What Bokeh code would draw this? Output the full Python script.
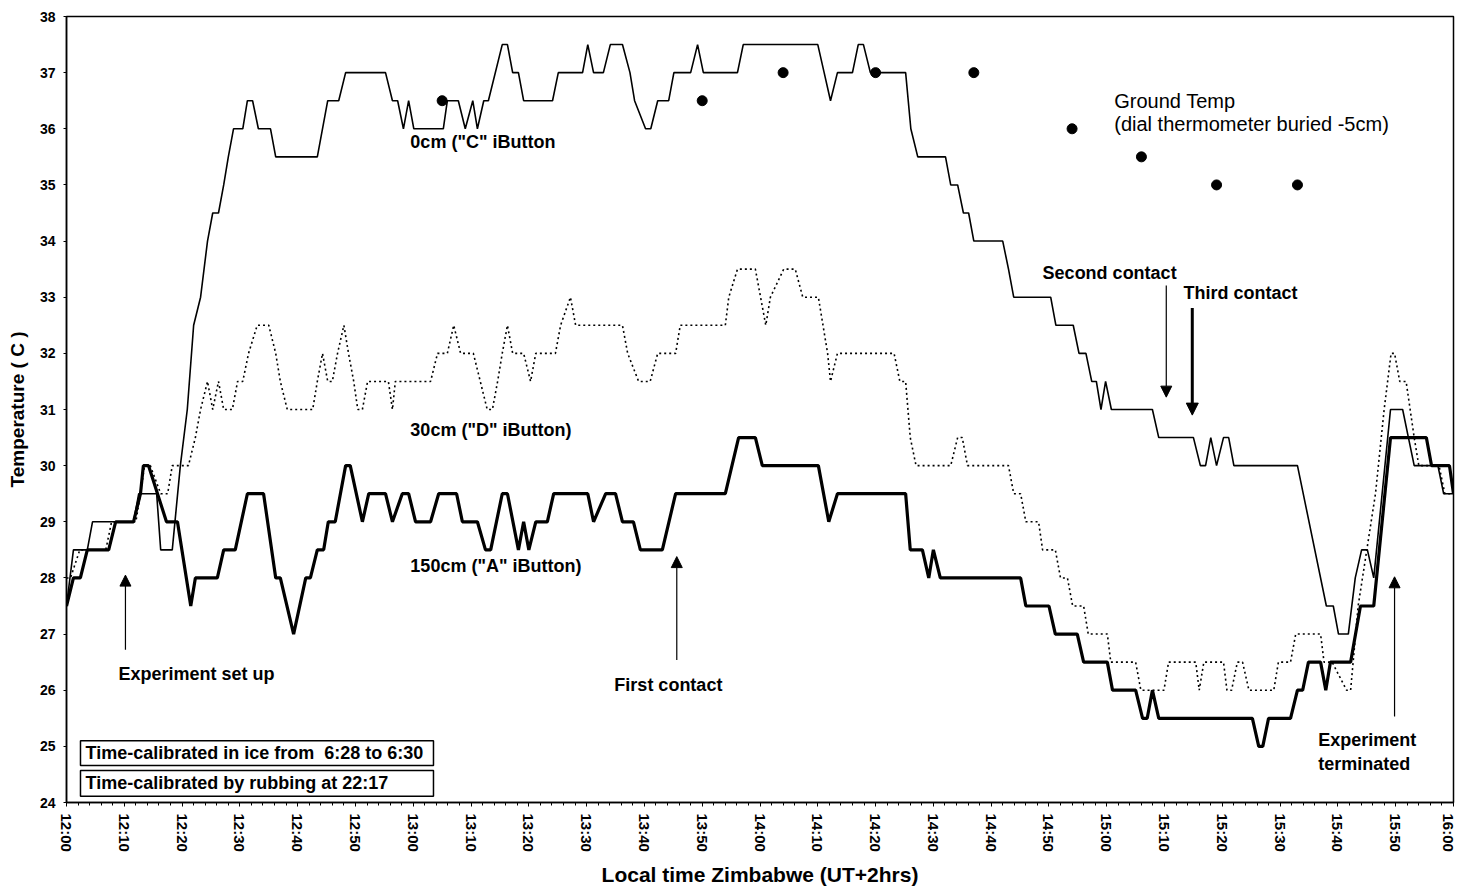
from bokeh.plotting import figure
from bokeh.models import Range1d, FixedTicker, Label, Arrow, NormalHead, BoxAnnotation
from bokeh.embed import file_html
from bokeh.resources import INLINE

# ---------------- data (x = minutes after 12:00 local time) ----------------
x_tick_labels = ["12:00", "12:10", "12:20", "12:30", "12:40", "12:50", "13:00", "13:10",
                 "13:20", "13:30", "13:40", "13:50", "14:00", "14:10", "14:20", "14:30",
                 "14:40", "14:50", "15:00", "15:10", "15:20", "15:30", "15:40", "15:50", "16:00"]
y_ticks = [24, 25, 26, 27, 28, 29, 30, 31, 32, 33, 34, 35, 36, 37, 38]

# 0cm ("C" iButton)
c_time = [0, 1.2, 3.6, 4.5, 11.6, 12.5, 15.6, 16.3, 18.3, 19.7, 20.9, 22.0, 23.2, 23.8, 24.4,
          25.3, 26.3, 27.2, 28.0, 28.9, 30.5, 31.3, 32.2, 33.2, 35.3, 36.2, 43.4, 45.2, 47.1,
          48.3, 55.2, 56.4, 57.3, 58.3, 59.2, 60.1, 65.2, 65.9, 67.8, 69.0, 70.3, 71.1, 72.2,
          73.0, 75.4, 76.3, 77.2, 78.2, 79.1, 84.1, 85.1, 89.3, 90.2, 91.2, 92.9, 94.1, 96.2,
          97.5, 98.3, 100.2, 101.1, 102.3, 104.2, 105.1, 108.0, 109.2, 110.2, 116.1, 117.1,
          130.0, 131.1, 132.2, 133.4, 136.0, 137.0, 137.9, 139.1, 145.2, 146.1, 147.3, 152.1,
          153.0, 154.2, 155.2, 156.1, 157.0, 162.0, 163.0, 163.9, 170.3, 171.2, 174.2, 175.2,
          176.4, 177.4, 178.2, 179.0, 179.8, 180.8, 187.9, 189.0, 195.0, 196.2, 197.1, 198.0,
          199.0, 200.2, 201.1, 202.0, 213.0, 218.0, 219.2, 220.1, 221.8, 223.0, 224.1, 225.1,
          226.2, 229.1, 231.2, 232.2, 233.2, 237.3, 238.3, 240.0]
c_temp = [27.5, 28.5, 28.5, 29.0, 29.0, 29.5, 29.5, 28.5, 28.5, 30.0, 31.0, 32.5, 33.0, 33.5, 34.0,
          34.5, 34.5, 35.0, 35.5, 36.0, 36.0, 36.5, 36.5, 36.0, 36.0, 35.5, 35.5, 36.5, 36.5,
          37.0, 37.0, 36.5, 36.5, 36.0, 36.5, 36.0, 36.0, 36.5, 36.5, 36.0, 36.5, 36.0, 36.5,
          36.5, 37.5, 37.5, 37.0, 37.0, 36.5, 36.5, 37.0, 37.0, 37.5, 37.0, 37.0, 37.5, 37.5,
          37.0, 36.5, 36.0, 36.0, 36.5, 36.5, 37.0, 37.0, 37.5, 37.0, 37.0, 37.5,
          37.5, 37.0, 36.5, 37.0, 37.0, 37.5, 37.5, 37.0, 37.0, 36.0, 35.5, 35.5,
          35.0, 35.0, 34.5, 34.5, 34.0, 34.0, 33.5, 33.0, 33.0, 32.5, 32.5, 32.0,
          32.0, 31.5, 31.5, 31.0, 31.5, 31.0, 31.0, 30.5, 30.5, 30.0, 30.0, 30.5,
          30.0, 30.5, 30.5, 30.0, 30.0, 27.5, 27.5, 27.0, 27.0, 28.0, 28.5, 28.5,
          28.0, 31.0, 31.0, 30.5, 30.0, 30.0, 29.5, 29.5]

# 30cm ("D" iButton)
d_time = [0, 0.7, 2.3, 6.8, 7.8, 12.0, 12.8, 13.5, 14.5, 16.3, 17.5, 18.3, 21.1, 22.3, 23.2, 24.4,
          25.3, 26.3, 27.2, 28.7, 29.6, 30.5, 31.5, 33.0, 35.0, 36.2, 37.0, 38.2, 42.6, 43.4,
          44.3, 45.2, 46.0, 46.9, 48.0, 48.8, 49.7, 50.4, 51.2, 52.1, 55.7, 56.4, 56.9, 63.0,
          64.2, 65.9, 67.0, 68.2, 70.4, 71.6, 72.8, 73.7, 74.6, 75.4, 76.3, 77.2, 79.1, 80.3,
          81.2, 84.6, 85.5, 87.2, 88.1, 96.2, 97.1, 99.0, 101.0, 102.3, 105.4, 106.2, 114.0,
          114.6, 116.1, 119.2, 120.1, 121.0, 121.8, 124.1, 126.1, 127.4, 130.1, 131.7, 132.2,
          133.4, 143.2, 144.2, 145.2, 146.0, 147.0, 153.0, 154.2, 155.0, 155.9, 163.0, 163.9,
          165.1, 166.0, 168.2, 168.9, 171.1, 172.0, 173.2, 174.1, 176.0, 176.8, 180.1, 180.7,
          185.0, 185.9, 189.9, 190.7, 195.4, 196.0, 196.8, 200.2, 200.8, 201.6, 202.6, 203.5,
          204.6, 208.9, 209.7, 211.8, 212.7, 217.0, 217.6, 219.0, 221.5, 222.2, 223.5, 225.0,
          226.5, 228.0, 229.2, 229.8, 230.7, 231.8, 232.5, 233.2, 234.0, 237.5, 238.5, 240.0]
d_temp = [28.0, 28.0, 28.5, 28.5, 29.0, 29.0, 29.5, 30.0, 30.0, 29.5, 29.5, 30.0, 30.0, 30.5, 31.0, 31.5,
          31.0, 31.5, 31.0, 31.0, 31.5, 31.5, 32.0, 32.5, 32.5, 32.0, 31.5, 31.0, 31.0, 31.5,
          32.0, 31.5, 31.5, 32.0, 32.5, 32.0, 31.5, 31.0, 31.0, 31.5, 31.5, 31.0, 31.5, 31.5,
          32.0, 32.0, 32.5, 32.0, 32.0, 31.5, 31.0, 31.0, 31.5, 32.0, 32.5, 32.0, 32.0, 31.5,
          32.0, 32.0, 32.5, 33.0, 32.5, 32.5, 32.0, 31.5, 31.5, 32.0, 32.0, 32.5, 32.5,
          33.0, 33.5, 33.5, 33.0, 32.5, 33.0, 33.5, 33.5, 33.0, 33.0, 32.0, 31.5,
          32.0, 32.0, 31.5, 31.5, 30.5, 30.0, 30.0, 30.5, 30.5, 30.0, 30.0, 29.5,
          29.5, 29.0, 29.0, 28.5, 28.5, 28.0, 28.0, 27.5, 27.5, 27.0, 27.0, 26.5,
          26.5, 26.0, 26.0, 26.5, 26.5, 26.0, 26.5, 26.5, 26.0, 26.0, 26.5, 26.5,
          26.0, 26.0, 26.5, 26.5, 27.0, 27.0, 26.5, 26.5, 26.0, 26.0, 27.5, 28.5,
          29.5, 31.0, 32.0, 32.0, 31.5, 31.5, 31.0, 30.5, 30.0, 30.0, 29.5, 29.5]

# 150cm ("A" iButton)
a_time = [0, 1.2, 2.4, 3.6, 7.3, 8.5, 11.6, 12.8, 13.3, 14.2, 17.3, 19.2, 21.5, 22.3, 26.1, 27.2,
          29.2, 31.3, 34.1, 36.2, 37.0, 39.3, 41.4, 42.2, 43.4, 44.5, 45.3, 46.5, 48.3, 49.1,
          51.2, 52.3, 55.2, 56.4, 58.1, 59.2, 60.4, 63.0, 64.4, 67.5, 68.5, 71.1, 72.5, 73.4,
          75.4, 76.3, 78.2, 79.1, 80.0, 81.2, 83.2, 84.3, 90.2, 91.2, 93.3, 95.0, 96.2, 98.1,
          99.3, 103.1, 105.4, 114.0, 116.3, 119.2, 120.4, 130.1, 131.9, 133.4, 145.2, 146.0,
          148.1, 149.2, 150.0, 151.2, 165.1, 166.0, 170.0, 171.1, 174.9, 176.0, 180.1, 181.0,
          185.0, 186.2, 187.0, 187.9, 189.0, 205.2, 206.3, 207.0, 208.0, 211.8, 213.0, 213.9,
          214.9, 217.0, 217.9, 218.7, 222.2, 223.9, 226.2, 229.1, 235.3, 236.2, 239.3, 240.0]
a_temp = [27.5, 28.0, 28.0, 28.5, 28.5, 29.0, 29.0, 29.5, 30.0, 30.0, 29.0, 29.0, 27.5, 28.0, 28.0, 28.5,
          28.5, 29.5, 29.5, 28.0, 28.0, 27.0, 28.0, 28.0, 28.5, 28.5, 29.0, 29.0, 30.0, 30.0,
          29.0, 29.5, 29.5, 29.0, 29.5, 29.5, 29.0, 29.0, 29.5, 29.5, 29.0, 29.0, 28.5, 28.5,
          29.5, 29.5, 28.5, 29.0, 28.5, 29.0, 29.0, 29.5, 29.5, 29.0, 29.5, 29.5, 29.0, 29.0,
          28.5, 28.5, 29.5, 29.5, 30.5, 30.5, 30.0, 30.0, 29.0, 29.5, 29.5, 28.5,
          28.5, 28.0, 28.5, 28.0, 28.0, 27.5, 27.5, 27.0, 27.0, 26.5, 26.5, 26.0,
          26.0, 25.5, 25.5, 26.0, 25.5, 25.5, 25.0, 25.0, 25.5, 25.5, 26.0, 26.0,
          26.5, 26.5, 26.0, 26.5, 26.5, 27.5, 27.5, 30.5, 30.5, 30.0, 30.0, 29.5]

# Ground temperature (dial thermometer buried -5cm)
g_time = [65, 110, 124, 140, 157, 174, 186, 199, 213]
g_temp = [36.5, 36.5, 37.0, 37.0, 37.0, 36.0, 35.5, 35.0, 35.0]

# ---------------- figure ----------------
FONT = "Liberation Sans"

p = figure(width=1456, height=888, output_backend="svg", toolbar_location=None,
           x_range=Range1d(0, 240), y_range=Range1d(24, 38),
           min_border_left=66, min_border_right=3, min_border_top=16, min_border_bottom=85,
           background_fill_color="white", border_fill_color="white")
p.xgrid.visible = False
p.ygrid.visible = False
p.outline_line_color = "black"
p.outline_line_width = 1.5
p.outline_line_alpha = 1.0

tick_minutes = [10 * i for i in range(len(x_tick_labels))]
p.xaxis.ticker = FixedTicker(ticks=tick_minutes, minor_ticks=list(range(0, 241, 2)))
p.xaxis.major_label_overrides = {m: lab for m, lab in zip(tick_minutes, x_tick_labels)}
p.xaxis.major_label_orientation = "vertical"
p.xaxis.axis_label = "Local time Zimbabwe (UT+2hrs)"
p.yaxis.ticker = FixedTicker(ticks=y_ticks)
p.yaxis.axis_label = "Temperature ( C )"

for ax in (p.xaxis[0], p.yaxis[0]):
    ax.axis_line_color = "black"
    ax.axis_line_width = 1.5
    ax.major_tick_line_color = "black"
    ax.minor_tick_line_color = "black"
    ax.major_tick_in = 0
    ax.minor_tick_in = 0
    ax.major_label_text_font = FONT
    ax.major_label_text_font_style = "bold"
    ax.major_label_text_color = "black"
    ax.axis_label_text_font = FONT
    ax.axis_label_text_font_style = "bold"
    ax.axis_label_text_color = "black"

p.xaxis.major_tick_out = 4
p.xaxis.minor_tick_out = 3
p.xaxis.major_label_standoff = 7
p.xaxis.major_label_text_font_size = "15px"
p.xaxis.axis_label_standoff = 8
p.xaxis.axis_label_text_font_size = "21px"

p.yaxis.major_tick_out = 3
p.yaxis.minor_tick_out = 0
p.yaxis.major_label_standoff = 8
p.yaxis.major_label_text_font_size = "14px"
p.yaxis.axis_label_standoff = 9
p.yaxis.axis_label_text_font_size = "19px"

# ---------------- series ----------------
p.line(d_time, d_temp, line_color="black", line_width=1.6, line_dash="2 3")
p.line(c_time, c_temp, line_color="black", line_width=1.6)
p.line(a_time, a_temp, line_color="black", line_width=3.2)
p.scatter(g_time, g_temp, size=10, marker="circle", fill_color="black", line_color="black")

# ---------------- annotations ----------------
def add_label(x, y, text, size="18px", style="bold"):
    p.add_layout(Label(x=x, y=y, text=text, text_font=FONT, text_font_size=size,
                       text_font_style=style, text_color="black",
                       text_align="left", text_baseline="middle"))

add_label(59.5, 35.76, '0cm ("C" iButton')
add_label(59.5, 30.63, '30cm ("D" iButton)')
add_label(59.5, 28.22, '150cm ("A" iButton)')
add_label(181.3, 36.50, "Ground Temp", size="20px", style="normal")
add_label(181.3, 36.08, "(dial thermometer buried -5cm)", size="20px", style="normal")
add_label(168.9, 33.43, "Second contact")
add_label(193.3, 33.07, "Third contact")
add_label(9.0, 26.29, "Experiment set up")
add_label(94.8, 26.10, "First contact")
add_label(216.6, 25.12, "Experiment")
add_label(216.6, 24.69, "terminated")

def add_arrow(x, y0, y1, lw=1.2, size=11):
    p.add_layout(Arrow(end=NormalHead(size=size, fill_color="black", line_color="black"),
                       x_start=x, y_start=y0, x_end=x, y_end=y1,
                       line_color="black", line_width=lw))

add_arrow(10.2, 26.72, 28.05)     # experiment set up
add_arrow(105.6, 26.54, 28.38)    # first contact
add_arrow(190.3, 33.21, 31.22)    # second contact
add_arrow(194.8, 32.81, 30.90, lw=3, size=12)  # third contact
add_arrow(229.8, 25.53, 28.02)    # experiment terminated

p.add_layout(BoxAnnotation(left=2.42, right=63.5, bottom=24.66, top=25.10,
                           fill_color="white", fill_alpha=1.0,
                           line_color="black", line_width=1.5, line_alpha=1.0))
p.add_layout(BoxAnnotation(left=2.42, right=63.5, bottom=24.11, top=24.57,
                           fill_color="white", fill_alpha=1.0,
                           line_color="black", line_width=1.5, line_alpha=1.0))
add_label(3.3, 24.88, "Time-calibrated in ice from\u00a0\u00a06:28 to 6:30")
add_label(3.3, 24.34, "Time-calibrated by rubbing at 22:17")

open("out.html", "w").write(file_html(p, INLINE))
